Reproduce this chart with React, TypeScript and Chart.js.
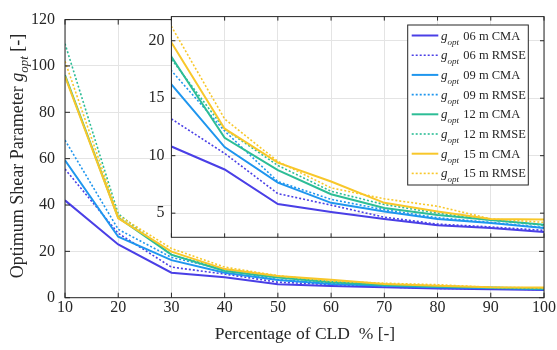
import React, { useEffect, useRef } from "react";
import { Chart, registerables } from "chart.js";
Chart.register(...registerables);

// ---------- data ----------
const X_PERCENT = [10, 20, 30, 40, 50, 60, 70, 80, 90, 100];
const G06_CMA = [42, 23, 10.8, 8.8, 5.8, 5.1, 4.5, 3.95, 3.7, 3.35];
const G06_RMSE = [55.5, 27.8, 13.2, 10.2, 6.7, 5.7, 4.65, 4.05, 3.8, 3.5];
const G09_CMA = [59.3, 26.3, 16.2, 10.75, 7.65, 5.9, 5.15, 4.5, 4.15, 3.7];
const G09_RMSE = [68, 29.5, 17.4, 12.15, 7.75, 6.2, 5.3, 4.6, 4.2, 3.75];
const G12_CMA = [96, 34.6, 18.6, 11.55, 8.75, 6.65, 5.45, 4.85, 4.4, 4.0];
const G12_RMSE = [109.6, 36.2, 18.4, 12.3, 9.15, 6.9, 5.75, 5.0, 4.4, 3.95];
const G15_CMA = [95.5, 34.3, 19.85, 12.35, 9.4, 7.75, 5.9, 5.15, 4.5, 4.45];
const G15_RMSE = [102, 35.5, 21.25, 13.2, 9.5, 7.2, 6.25, 5.6, 4.5, 4.2];

const SERIES = [G06_CMA, G06_RMSE, G09_CMA, G09_RMSE, G12_CMA, G12_RMSE, G15_CMA, G15_RMSE];
const LABELS = ["06 m CMA", "06 m RMSE", "09 m CMA", "09 m RMSE", "12 m CMA", "12 m RMSE", "15 m CMA", "15 m RMSE"];
const COLORS = ["#4a3fe6", "#1f96ee", "#2dbd96", "#f8c72a"];

const MAIN_X_TICKS = { min: 10, max: 100, step: 10 };
const MAIN_Y_TICKS = { min: 0, max: 120, step: 20 };
const INSET_X_TICKS = { min: 30, max: 100, step: 10 };
const INSET_Y_TICKS = { min: 2.9, max: 22.1, step: 5 };

const X_TITLE = "Percentage of CLD  % [-]";
const Y_TITLE_PRE = "Optimum Shear Parameter ";
const Y_TITLE_POST = " [-]";

// ---------- styles ----------
const FONT = '"Liberation Serif", "Times New Roman", serif';
const AXIS = "#262626";
const GRID = "#e4e4e4";
const W = 557;
const H = 350;

function buildDatasets() {
  return SERIES.map((vals, i) => ({
    label: LABELS[i],
    data: X_PERCENT.map((x, j) => ({ x, y: vals[j] })),
    borderColor: COLORS[Math.floor(i / 2)],
    backgroundColor: COLORS[Math.floor(i / 2)],
    borderWidth: i % 2 === 0 ? 2 : 1.6,
    borderDash: i % 2 === 0 ? [] : [2, 2],
    pointRadius: 0,
    fill: false,
    tension: 0,
    order: 20 - i,
  }));
}

function drawFrame(chart: any, tickLen: number) {
  const { ctx, chartArea: a, scales } = chart;
  ctx.save();
  ctx.strokeStyle = AXIS;
  ctx.lineWidth = 1;
  ctx.setLineDash([]);
  ctx.strokeRect(a.left, a.top, a.right - a.left, a.bottom - a.top);
  ctx.beginPath();
  scales.x.ticks.forEach((t: any) => {
    const px = scales.x.getPixelForValue(t.value);
    ctx.moveTo(px, a.bottom);
    ctx.lineTo(px, a.bottom - tickLen);
    ctx.moveTo(px, a.top);
    ctx.lineTo(px, a.top + tickLen);
  });
  scales.y.ticks.forEach((t: any) => {
    const py = scales.y.getPixelForValue(t.value);
    ctx.moveTo(a.left, py);
    ctx.lineTo(a.left + tickLen, py);
    ctx.moveTo(a.right, py);
    ctx.lineTo(a.right - tickLen, py);
  });
  ctx.stroke();
  ctx.restore();
}

const mainPlugin = {
  id: "mainFrame",
  afterDraw(chart: any) {
    drawFrame(chart, 5);
    const { ctx } = chart;
    ctx.save();
    ctx.fillStyle = AXIS;
    ctx.textBaseline = "alphabetic";
    // x title
    ctx.font = `17.5px ${FONT}`;
    ctx.textAlign = "center";
    ctx.fillText(X_TITLE, 305, 338.5);
    // y title (rotated)
    ctx.translate(23, 156);
    ctx.rotate(-Math.PI / 2);
    ctx.textAlign = "left";
    const parts = [
      { t: Y_TITLE_PRE, f: `18px ${FONT}`, dy: 0 },
      { t: "g", f: `italic 18px ${FONT}`, dy: 0 },
      { t: "opt", f: `italic 13px ${FONT}`, dy: 4.5 },
      { t: Y_TITLE_POST, f: `18px ${FONT}`, dy: 0 },
    ];
    let total = 0;
    parts.forEach((p) => {
      ctx.font = p.f;
      total += ctx.measureText(p.t).width;
    });
    let x = -total / 2;
    parts.forEach((p) => {
      ctx.font = p.f;
      ctx.fillText(p.t, x, p.dy);
      x += ctx.measureText(p.t).width;
    });
    ctx.restore();
  },
};

const insetPlugin = {
  id: "insetFrame",
  beforeDraw(chart: any) {
    const { ctx, chartArea: a } = chart;
    ctx.save();
    ctx.fillStyle = "#ffffff";
    ctx.fillRect(a.left, a.top, a.right - a.left, a.bottom - a.top);
    ctx.restore();
  },
  afterDraw(chart: any) {
    drawFrame(chart, 4);
    const { ctx } = chart;
    // legend
    const L = { x: 407.7, y: 25, w: 120.6, h: 160 };
    ctx.save();
    ctx.fillStyle = "#ffffff";
    ctx.fillRect(L.x, L.y, L.w, L.h);
    ctx.strokeStyle = AXIS;
    ctx.lineWidth = 1;
    ctx.strokeRect(L.x, L.y, L.w, L.h);
    LABELS.forEach((lab, i) => {
      const yc = 35.5 + i * 19.7;
      const color = COLORS[Math.floor(i / 2)];
      ctx.beginPath();
      ctx.strokeStyle = color;
      ctx.lineWidth = i % 2 === 0 ? 2 : 1.6;
      ctx.setLineDash(i % 2 === 0 ? [] : [2, 2]);
      ctx.moveTo(411.7, yc);
      ctx.lineTo(438.3, yc);
      ctx.stroke();
      ctx.setLineDash([]);
      ctx.fillStyle = AXIS;
      ctx.textAlign = "left";
      ctx.textBaseline = "alphabetic";
      ctx.font = `italic 13px ${FONT}`;
      ctx.fillText("g", 441, yc + 4);
      ctx.font = `italic 9px ${FONT}`;
      ctx.fillText("opt", 447.5, yc + 9);
      ctx.font = `12.5px ${FONT}`;
      ctx.fillText(lab, 463.3, yc + 4);
    });
    ctx.restore();
  },
};

function makeScales(xr: any, yr: any, yWidth: number, xHeight: number, showX: boolean, yPad: number) {
  return {
    x: {
      type: "linear",
      min: xr.min,
      max: xr.max,
      ticks: {
        stepSize: xr.step,
        display: showX,
        font: { family: FONT, size: 16 },
        color: AXIS,
        padding: 0,
        maxRotation: 0,
        autoSkip: false,
        includeBounds: false,
      },
      grid: { color: GRID, drawTicks: false, lineWidth: 1 },
      border: { display: false },
      afterFit: (s: any) => {
        s.height = xHeight;
      },
    },
    y: {
      type: "linear",
      min: yr.min,
      max: yr.max,
      ticks: {
        stepSize: yr.step,
        font: { family: FONT, size: 16 },
        color: AXIS,
        padding: yPad,
        autoSkip: false,
        includeBounds: false,
      },
      grid: { color: GRID, drawTicks: false, lineWidth: 1 },
      border: { display: false },
      afterFit: (s: any) => {
        s.width = yWidth;
      },
    },
  };
}

export default function App() {
  const mainRef = useRef<HTMLCanvasElement | null>(null);
  const insetRef = useRef<HTMLCanvasElement | null>(null);

  useEffect(() => {
    const main = new Chart(mainRef.current as HTMLCanvasElement, {
      type: "line",
      data: { datasets: buildDatasets() as any },
      options: {
        animation: false,
        responsive: false,
        maintainAspectRatio: false,
        devicePixelRatio: 1,
        layout: { padding: { left: 0, top: 15.7, right: 13, bottom: 0 } },
        plugins: { legend: { display: false }, tooltip: { enabled: false } },
        scales: makeScales(MAIN_X_TICKS, MAIN_Y_TICKS, 65, 52.3, true, 10) as any,
      },
      plugins: [mainPlugin],
    });
    const inset = new Chart(insetRef.current as HTMLCanvasElement, {
      type: "line",
      data: { datasets: buildDatasets() as any },
      options: {
        animation: false,
        responsive: false,
        maintainAspectRatio: false,
        devicePixelRatio: 1,
        layout: { padding: { left: 0, top: 15, right: 13, bottom: 0 } },
        plugins: { legend: { display: false }, tooltip: { enabled: false } },
        scales: makeScales(INSET_X_TICKS, INSET_Y_TICKS, 171.4, 112.7, false, 7) as any,
      },
      plugins: [insetPlugin],
    });
    return () => {
      main.destroy();
      inset.destroy();
    };
  }, []);

  const cs: React.CSSProperties = { position: "absolute", left: 0, top: 0, width: W, height: H };
  return (
    <div style={{ position: "absolute", left: 0, top: 0, width: W, height: H, background: "#fff" }}>
      <canvas ref={mainRef} width={W} height={H} style={cs} />
      <canvas ref={insetRef} width={W} height={H} style={cs} />
    </div>
  );
}
